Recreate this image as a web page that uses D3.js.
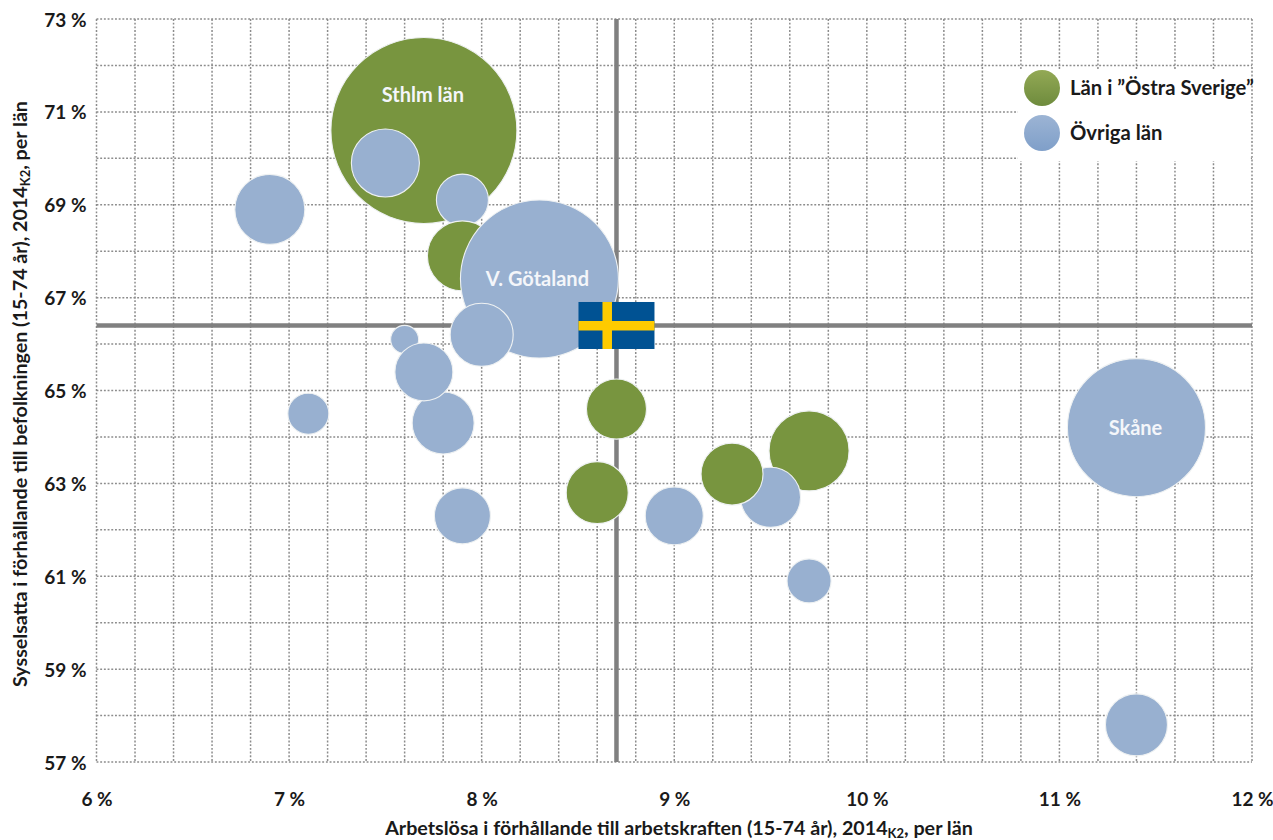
<!DOCTYPE html>
<html><head><meta charset="utf-8">
<script src="https://cdnjs.cloudflare.com/ajax/libs/d3/7.9.0/d3.min.js"></script>
<style>
html,body{margin:0;padding:0;background:#fff}
svg{display:block}
text{font-family:Lato,"Open Sans",sans-serif;font-weight:700;fill:#1a1a1a}
.domain{display:none}
.grid line{stroke:#8c8c8c;stroke-width:1.5;stroke-dasharray:1.9 1.8}
</style></head><body>
<svg id="c" width="1273" height="840"></svg>
<script>
const names  = ["Sthlm län","","","","","V. Götaland","","","","","","","","","","","","","","Skåne",""];
const xVals  = [7.7,7.5,7.9,6.9,7.9,8.3,8.0,7.6,7.8,7.7,7.1,8.7,9.7,9.5,9.3,8.6,9.0,7.9,9.7,11.4,11.4];
const yVals  = [70.6,69.9,69.1,68.9,67.9,67.4,66.2,66.1,64.3,65.4,64.5,64.6,63.7,62.7,63.2,62.8,62.3,62.3,60.9,64.2,57.8];
const sizes  = [2160,289,169,306,306,1558,248,49,240,210,105,225,400,225,240,240,210,196,121,1190,240];
const groups = ["o","b","b","b","o","b","b","b","b","b","b","o","o","b","o","o","b","b","b","b","b"];
const xTicks = [6,7,8,9,10,11,12];
const yTicks = [57,59,61,63,65,67,69,71,73];
const xGrid  = d3.range(0,31).map(i=>6+i*0.2);
const yGrid  = d3.range(57,74);
const avgX = 8.7, avgY = 66.4;
const legendItems = [["o",'Län i ”Östra Sverige”'],["b","Övriga län"]];
const colors = {o:"#78953f",b:"#98b0d0"};

const svg = d3.select("#c");
const x = d3.scaleLinear().domain([6,12]).range([96.5,1252]);
const y = d3.scaleLinear().domain([57,73]).range([762,19]);
const r = d3.scaleSqrt().domain([0,2160]).range([0,93]);

const defs = svg.append("defs");
[["o","#93a955","#6e8b3d"],["b","#9cb4d4","#7f9fc9"]].forEach(([id,a,b])=>{
  const g = defs.append("linearGradient").attr("id","lg"+id).attr("x1",0).attr("y1",0).attr("x2",0).attr("y2",1);
  g.append("stop").attr("offset",0).attr("stop-color",a);
  g.append("stop").attr("offset",1).attr("stop-color",b);
});

// grid
const grid = svg.append("g").attr("class","grid");
grid.selectAll(".v").data(xGrid).join("line").attr("class","v")
  .attr("x1",d=>x(d)).attr("x2",d=>x(d)).attr("y1",y(73)).attr("y2",y(57));
grid.selectAll(".h").data(yGrid).join("line").attr("class","h")
  .attr("x1",x(6)).attr("x2",x(12)).attr("y1",d=>y(d)).attr("y2",d=>y(d));

// axes
const fmt = d=>d+" %";
const ax = svg.append("g").attr("transform",`translate(0,${y(57)})`)
  .call(d3.axisBottom(x).tickValues(xTicks).tickFormat(fmt).tickSize(0).tickPadding(31));
const ay = svg.append("g").attr("transform",`translate(${x(6)},1)`)
  .call(d3.axisLeft(y).tickValues(yTicks).tickFormat(fmt).tickSize(0).tickPadding(10));
ax.attr("font-family",null); ay.attr("font-family",null);
ax.selectAll("text").attr("font-size",19).style("fill","#1a1a1a");
ay.selectAll("text").attr("font-size",19).style("fill","#1a1a1a");

// white box behind legend
svg.append("rect").attr("x",1018).attr("y",69).attr("width",232).attr("height",92).attr("fill","#fff");

// reference lines
svg.append("line").attr("x1",x(avgX)).attr("x2",x(avgX)).attr("y1",y(73)).attr("y2",y(57)).attr("stroke","#808080").attr("stroke-width",4.5);
svg.append("line").attr("x1",x(6)).attr("x2",x(12)).attr("y1",y(avgY)).attr("y2",y(avgY)).attr("stroke","#808080").attr("stroke-width",4.5);

// bubbles
const data = xVals.map((v,i)=>({x:v,y:yVals[i],s:sizes[i],g:groups[i],n:names[i]}));
svg.append("g").selectAll("circle").data(data).join("circle")
  .attr("cx",d=>x(d.x)).attr("cy",d=>y(d.y)).attr("r",d=>r(d.s))
  .attr("fill",d=>colors[d.g]).attr("stroke","#eef1f2").attr("stroke-width",1.1);

// bubble labels
const labelDy = {"Sthlm län":-35,"V. Götaland":0,"Skåne":0};
svg.append("g").selectAll("text").data(data.filter(d=>d.n)).join("text")
  .attr("x",d=>x(d.x)+(d.n==="V. Götaland"?-2:-1)).attr("y",d=>y(d.y)+labelDy[d.n]).attr("dy","0.35em")
  .attr("text-anchor","middle").attr("font-size",20).style("fill","#f4f6fa").text(d=>d.n);

// flag
const fw=76, fh=47, fx=x(avgX)-fw/2, fy=y(avgY)-fh/2;
const flag = svg.append("g");
flag.append("rect").attr("x",fx).attr("y",fy).attr("width",fw).attr("height",fh).attr("fill","#005293");
flag.append("rect").attr("x",fx+24).attr("y",fy).attr("width",9.5).attr("height",fh).attr("fill","#fecb00");
flag.append("rect").attr("x",fx).attr("y",fy+19).attr("width",fw).attr("height",9.5).attr("fill","#fecb00");

// legend
const lg = svg.append("g").selectAll("g").data(legendItems).join("g")
  .attr("transform",(d,i)=>`translate(1042,${88+i*45})`);
lg.append("circle").attr("r",18).attr("fill",d=>`url(#lg${d[0]})`);
lg.append("text").attr("x",28).attr("dy","0.35em").attr("font-size",20.3).text(d=>d[1]);

// axis titles
function title(sel,main,rest){
  sel.attr("font-size",19.7).attr("text-anchor","middle");
  sel.append("tspan").text(main);
  sel.append("tspan").text("K2").attr("font-size",13).attr("dy",3);
  sel.append("tspan").text(rest).attr("dy",-3);
}
title(svg.append("text").attr("x",679).attr("y",835),"Arbetslösa i förhållande till arbetskraften (15-74 år), 2014",", per län");
title(svg.append("text").attr("transform","translate(27,394) rotate(-90)"),"Sysselsatta i förhållande till befolkningen (15-74 år), 2014",", per län");
</script>
</body></html>
